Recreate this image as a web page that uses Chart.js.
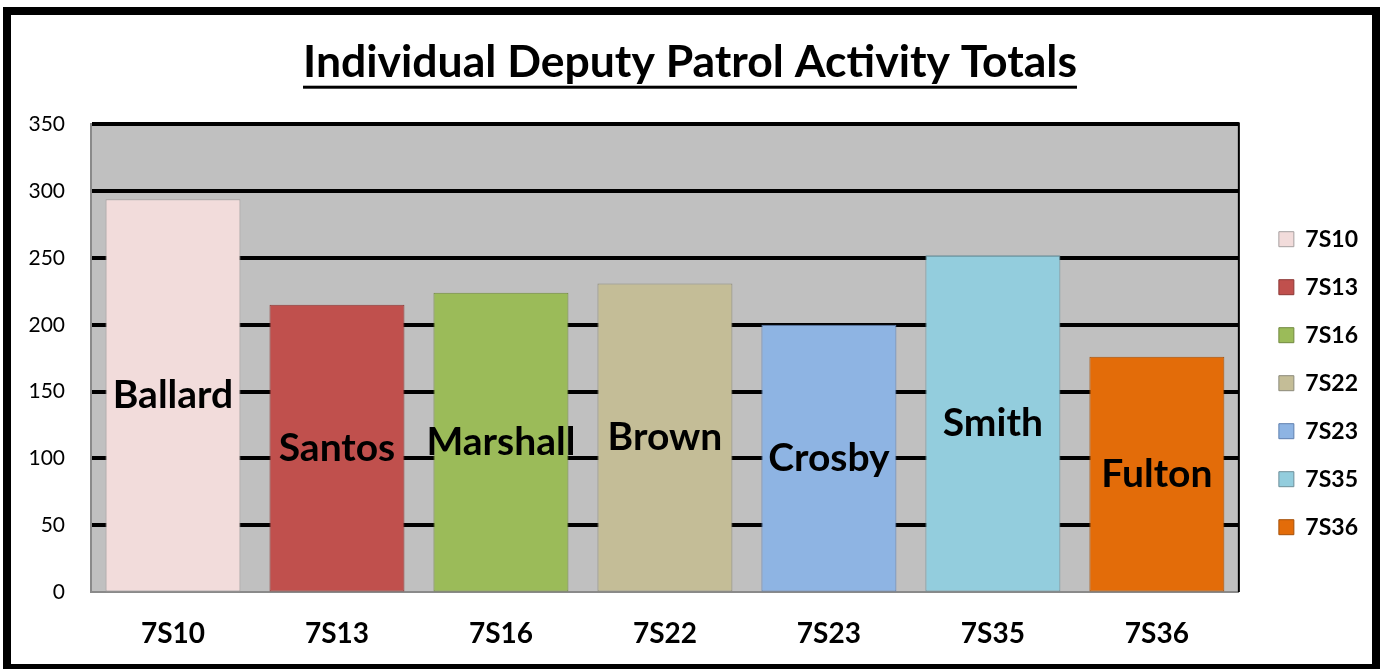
<!DOCTYPE html>
<html>
<head>
<meta charset="utf-8">
<title>Individual Deputy Patrol Activity Totals</title>
<script src="https://cdn.jsdelivr.net/npm/chart.js@4.4.0/dist/chart.umd.min.js"></script>
<style>
  html, body { margin: 0; padding: 0; background: #fff; }
  #frame {
    position: absolute;
    left: 3px;
    top: 7px;
    width: 1361px;
    height: 649px;
    border: 8px solid #000;
    background: #fff;
  }
  canvas { display: block; }
</style>
</head>
<body>
<div id="frame"><canvas id="patrolChart" width="1361" height="649"></canvas></div>
<script>
// --- Datos ---
const units = ['7S10', '7S13', '7S16', '7S22', '7S23', '7S35', '7S36'];
const deputies = ['Ballard', 'Santos', 'Marshall', 'Brown', 'Crosby', 'Smith', 'Fulton'];
const totals = [294, 215, 224, 231, 200, 252, 176];
const yMin = 0;
const yMax = 350;
const yStep = 50;

const fillColors = ['#F2DCDB', '#C0504D', '#9BBB59', '#C4BD97', '#8EB4E3', '#93CDDD', '#E36C09'];
const edgeColors = ['#A6A0A0', '#8C3836', '#71893F', '#8C8A7A', '#5F7FAF', '#6E8F99', '#A5500A'];

const FONT = 'Lato, "Open Sans", sans-serif';

// fondo gris del area de trazado + borde derecho negro
const plotBackground = {
  id: 'plotBackground',
  beforeDraw(chart) {
    const { ctx, chartArea: a } = chart;
    ctx.save();
    ctx.fillStyle = '#C0C0C0';
    ctx.fillRect(a.left, a.top, a.right - a.left, a.bottom - a.top);
    ctx.restore();
  },
  beforeDatasetsDraw(chart) {
    const { ctx, chartArea: a } = chart;
    ctx.save();
    ctx.fillStyle = '#000';
    ctx.fillRect(a.right - 1, a.top - 2, 2, a.bottom - a.top + 2);
    ctx.restore();
  }
};

// mover la leyenda un poco (a la derecha y hacia abajo)
const legendShift = {
  id: 'legendShift',
  afterLayout(chart) {
    const lg = chart.legend;
    if (!lg) return;
    lg.left += 15; lg.right += 15;
    lg.top += 25; lg.bottom += 25;
  }
};

// nombres dentro de las barras
const barNames = {
  id: 'barNames',
  afterDatasetsDraw(chart) {
    const { ctx } = chart;
    const meta = chart.getDatasetMeta(0);
    ctx.save();
    ctx.font = 'bold 39px ' + FONT;
    ctx.fillStyle = '#000';
    ctx.textAlign = 'center';
    ctx.textBaseline = 'middle';
    meta.data.forEach((bar, i) => {
      ctx.fillText(deputies[i], bar.x, (bar.y + bar.base) / 2);
    });
    ctx.restore();
  }
};

// subrayado del titulo
const titleUnderline = {
  id: 'titleUnderline',
  afterDraw(chart) {
    const tb = chart.titleBlock;
    if (!tb) return;
    const { ctx } = chart;
    const opts = chart.options.plugins.title;
    ctx.save();
    ctx.font = 'bold ' + opts.font.size + 'px ' + FONT;
    const w = ctx.measureText(opts.text).width;
    const cx = (tb.left + tb.right) / 2;
    const cy = tb.top + opts.padding.top + opts.font.size * 1.2 / 2;
    ctx.fillStyle = '#000';
    ctx.fillRect(cx - w / 2, cy + 23, w, 3);
    ctx.restore();
  }
};

const ctx = document.getElementById('patrolChart').getContext('2d');

new Chart(ctx, {
  type: 'bar',
  data: {
    labels: units,
    datasets: [{
      label: 'Total',
      data: totals,
      backgroundColor: fillColors,
      borderColor: edgeColors,
      borderWidth: 1,
      borderSkipped: false,
      categoryPercentage: 1,
      barPercentage: 0.823
    }]
  },
  options: {
    responsive: false,
    animation: false,
    layout: {
      padding: { top: 21, left: 16, right: 19, bottom: 21 }
    },
    plugins: {
      title: {
        display: true,
        text: 'Individual Deputy Patrol Activity Totals',
        color: '#000',
        font: { family: FONT, size: 44.5, weight: 'bold' },
        padding: { top: 0, bottom: 35 }
      },
      legend: {
        position: 'right',
        fullSize: false,
        labels: {
          boxWidth: 15,
          boxHeight: 15,
          padding: 25,
          color: '#000',
          font: { family: FONT, size: 23, weight: 'bold' },
          generateLabels: () => units.map((u, i) => ({
            text: u,
            fillStyle: fillColors[i],
            strokeStyle: edgeColors[i],
            lineWidth: 1,
            hidden: false,
            index: i
          }))
        }
      },
      tooltip: { enabled: true }
    },
    scales: {
      x: {
        grid: { display: false },
        border: { display: true, color: '#8A8A8A', width: 2 },
        ticks: {
          color: '#000',
          padding: 17,
          font: { family: FONT, size: 28, weight: 'bold' }
        },
        afterFit: scale => { scale.height = 51; }
      },
      y: {
        min: yMin,
        max: yMax,
        grid: {
          drawTicks: false,
          color: c => c.tick && c.tick.value === 0 ? '#8A8A8A' : '#000',
          lineWidth: c => c.tick && c.tick.value === 0 ? 1 : 4
        },
        border: { display: true, color: '#8A8A8A', width: 2 },
        ticks: {
          stepSize: yStep,
          color: '#000',
          padding: 26,
          font: { family: FONT, size: 21 }
        },
        afterFit: scale => { scale.width = 64; }
      }
    }
  },
  plugins: [plotBackground, legendShift, barNames, titleUnderline]
});
</script>
</body>
</html>
